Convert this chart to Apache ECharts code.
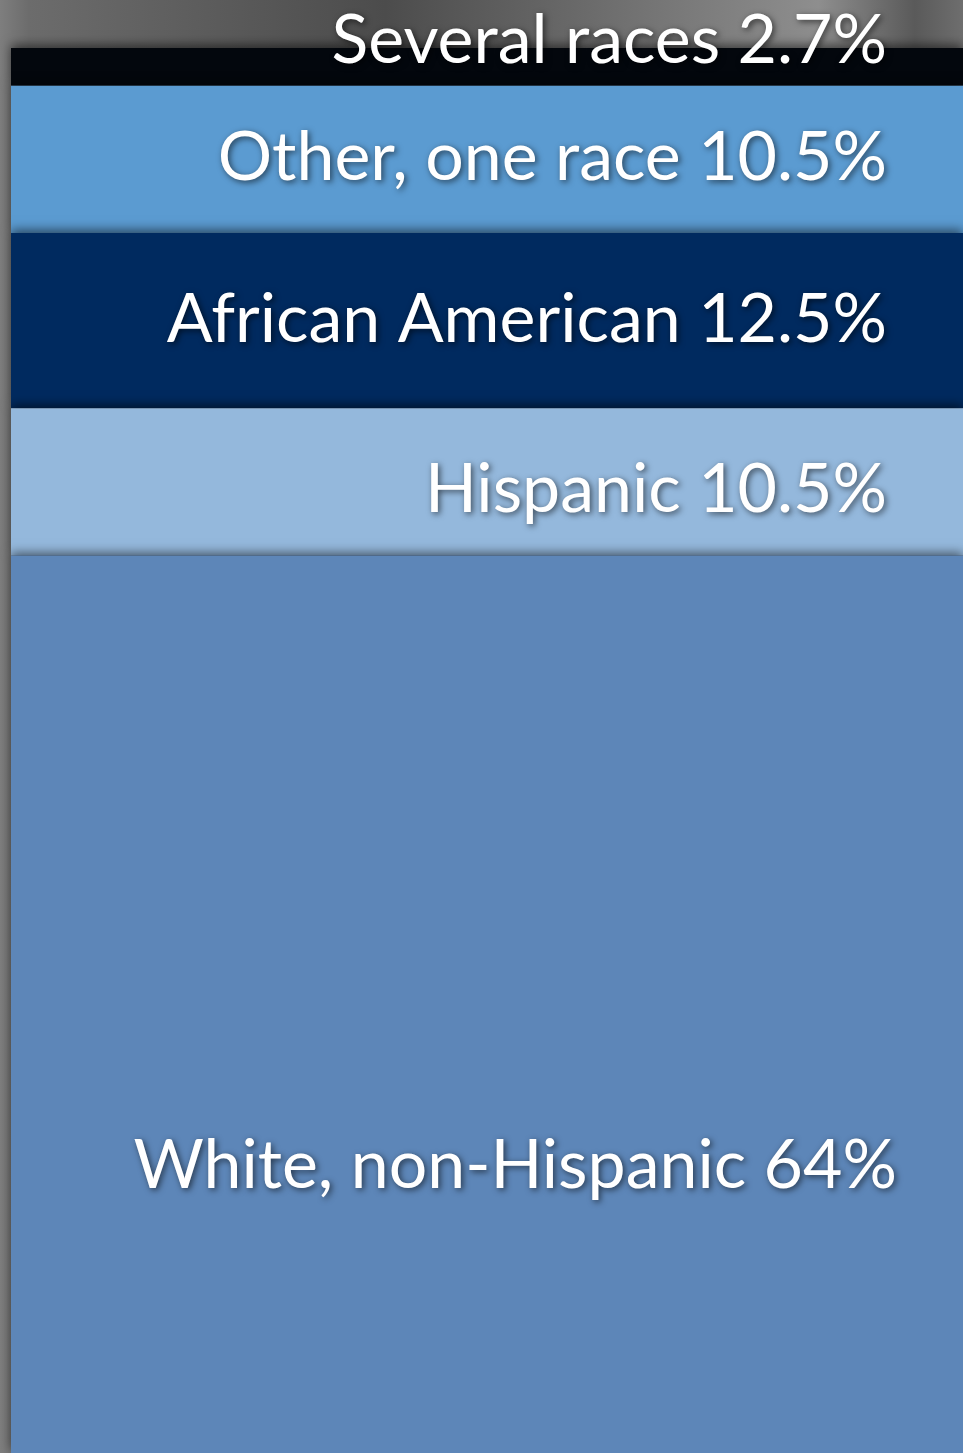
<!DOCTYPE html>
<html>
<head>
<meta charset="utf-8">
<script src="https://cdn.jsdelivr.net/npm/echarts@6/dist/echarts.min.js"></script>
<style>
  html, body { margin: 0; padding: 0; background: #777; }
  #chart { width: 963px; height: 1453px; }
</style>
</head>
<body>
<div id="chart"></div>
<script>
// data, bottom of the stack first
var categories = ['Population'];
var groups = ['White, non-Hispanic', 'Hispanic', 'African American', 'Other, one race', 'Several races'];
var shares = [64, 10.5, 12.5, 10.5, 2.7];
var shareLabels = ['64%', '10.5%', '12.5%', '10.5%', '2.7%'];

var colors = ['#5d86b8', '#94b8dc', '#002a5f', '#5b9bd1', '#03070d'];
var labelOffsets = [[-61, 162], [-71, 8], [-71, -1], [-71, -1], [-71, -26]];

var myChart = echarts.init(document.getElementById('chart'));

var series = [];
groups.forEach(function (g, i) {
	series.push({
		name: g,
		type: 'bar',
		stack: 'total',
		barWidth: '100%',
		z: 10 - i,
		data: [shares[i]],
		itemStyle: {
			color: colors[i],
			shadowColor: 'rgba(0,0,0,0.55)',
			shadowBlur: 10,
			shadowOffsetY: -3
		},
		label: {
			show: true,
			position: 'insideRight',
			offset: labelOffsets[i],
			formatter: function () { return g + ' ' + shareLabels[i]; },
			color: '#fff',
			fontFamily: 'Lato',
			fontSize: 68,
			textShadowColor: 'rgba(0,0,0,0.6)',
			textShadowBlur: 6,
			textShadowOffsetX: 2,
			textShadowOffsetY: 2
		}
	});
});

var option = {
	animation: false,
	backgroundColor: {
		type: 'linear', x: 0, y: 0, x2: 1, y2: 0,
		colorStops: [
			{ offset: 0, color: '#7e7e7e' },
			{ offset: 0.03, color: '#6c6c6c' },
			{ offset: 0.4, color: '#4c4c4c' },
			{ offset: 0.85, color: '#8e8e8e' },
			{ offset: 0.95, color: '#5a5a5a' },
			{ offset: 1, color: '#6e6e6e' }
		]
	},
	grid: { left: 11, right: 0, top: 48, bottom: 0 },
	xAxis: { type: 'category', data: categories, show: false },
	yAxis: { type: 'value', min: 0, max: 100.2, show: false },
	series: series
};

myChart.setOption(option);
</script>
</body>
</html>
